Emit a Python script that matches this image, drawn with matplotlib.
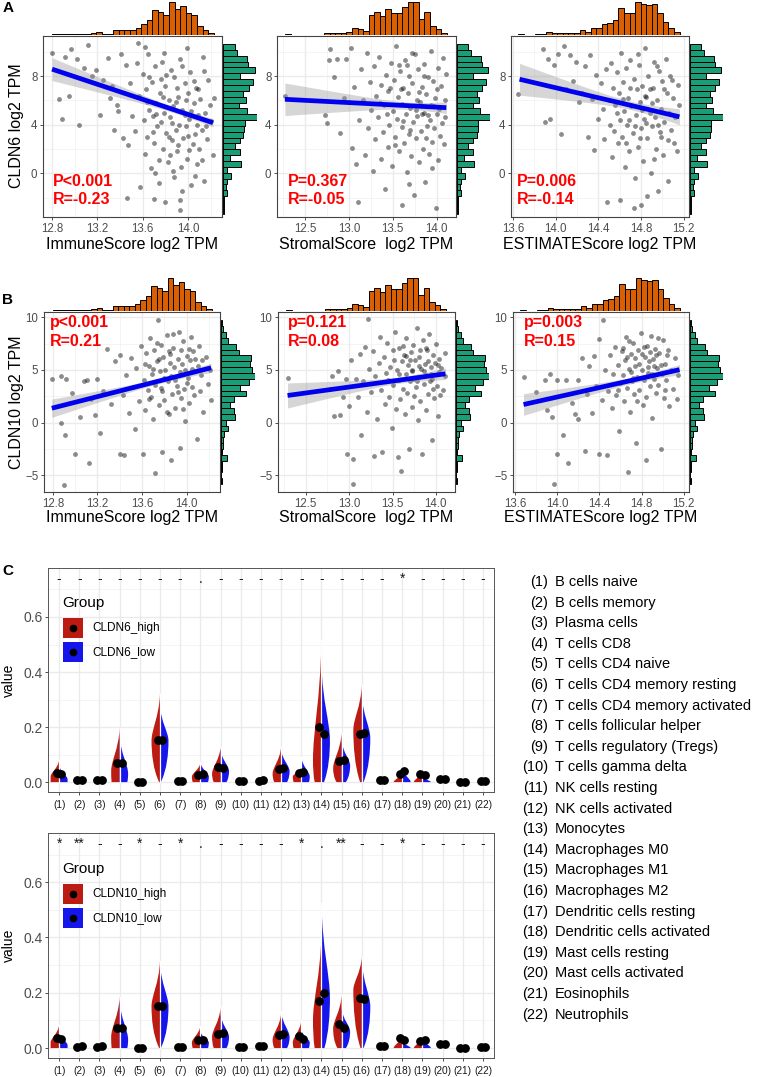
import matplotlib
matplotlib.use('Agg')
import matplotlib.pyplot as plt
import numpy as np
from matplotlib.patches import Rectangle, PathPatch
from matplotlib.path import Path

plt.rcParams['font.family'] = ['Liberation Sans', 'DejaVu Sans']

W, H = 770, 1077
fig = plt.figure(figsize=(W / 100, H / 100), dpi=100)

# ---------------- data: scatter panels (read approx. from picture) ----------------
a1 = [(12.80, 9.9), (12.86, 6.1), (12.89, 4.5), (12.91, 9.6), (12.95, 6.4), (12.97, 10.2), (13.02, 9.4), (13.04, 4.0),
      (13.08, 8.7), (13.12, 10.6), (13.15, 8.0), (13.19, 8.5), (13.22, 4.8), (13.25, 7.7), (13.29, 9.5), (13.31, 6.2),
      (13.35, 3.6), (13.37, 5.6), (13.38, 5.1), (13.41, 9.8), (13.43, 2.9), (13.46, -2.0), (13.47, 2.3), (13.49, 7.4),
      (13.51, 4.7), (13.53, 3.5), (13.55, 9.1), (13.57, 6.4), (13.58, -1.1), (13.56, 10.7), (13.45, 8.9), (13.33, 7.2),
      (13.60, 8.2), (13.61, 4.4), (13.62, 1.6), (13.63, 6.9), (13.64, 3.0), (13.65, 9.8), (13.66, 5.2), (13.67, 0.4),
      (13.68, 7.5), (13.69, 4.7), (13.70, -2.1), (13.70, 2.5), (13.71, 8.8), (13.72, 5.8), (13.73, 3.9), (13.74, 1.1),
      (13.75, 6.6), (13.76, 4.2), (13.77, 9.2), (13.78, 2.0), (13.79, 5.0), (13.80, -2.4), (13.80, 7.2), (13.81, 3.3),
      (13.82, 0.9), (13.83, 6.0), (13.84, 4.6), (13.85, 8.5), (13.86, 2.7), (13.87, 5.5), (13.88, -0.3), (13.88, 7.9),
      (13.89, 3.6), (13.90, 1.8), (13.91, 6.3), (13.92, 4.0), (13.93, -2.2), (13.93, 9.4), (13.94, 0.5), (13.95, 5.2),
      (13.96, 2.9), (13.97, 7.4), (13.98, 3.9), (13.99, 1.2), (14.00, 6.6), (14.01, 4.5), (14.02, 8.3), (14.03, -1.0),
      (14.04, 2.4), (14.05, 5.8), (14.06, 3.2), (14.07, 7.0), (14.08, 0.8), (14.09, 4.8), (14.10, 2.0), (14.11, 6.1),
      (14.12, 3.6), (14.13, 9.6), (14.14, -0.6), (14.15, 5.0), (14.17, 2.8), (14.18, 7.7), (14.20, 4.3), (14.22, 1.5),
      (14.23, 6.2), (13.93, -3.0), (13.74, -0.8), (13.66, 7.9), (13.72, 4.9), (13.78, 6.3), (13.81, 8.1), (13.84, 1.5),
      (13.86, 4.1), (13.89, 5.9), (13.91, 2.3), (13.95, 8.8), (13.97, 4.8), (14.00, 3.1), (14.03, 5.1), (14.05, 7.6),
      (14.08, 4.0), (14.12, 1.1), (14.16, 3.9), (13.64, 5.9), (13.69, 3.4), (13.76, 7.8), (13.83, 3.0), (13.90, 7.0),
      (13.98, 6.0), (14.01, 1.9), (14.09, 6.9), (14.19, 5.6), (13.71, 0.0), (13.87, 0.2), (14.06, -0.2), (13.95, -1.5),
      (13.79, 9.9), (13.99, 10.3), (14.14, 8.4), (13.62, 10.4)]

a2 = [(12.27, 6.4), (12.73, 4.8), (12.75, 4.1), (12.77, 9.3), (12.78, 10.2), (12.83, 7.9), (12.86, 9.4), (12.90, 3.3),
      (12.94, 6.2), (12.97, 9.4), (13.00, 5.9), (13.02, 10.3), (13.04, 2.1), (13.06, 7.1), (13.08, 0.8), (13.10, -2.4),
      (13.12, 4.4), (13.14, 8.6), (13.16, 6.0), (13.18, 1.5), (13.20, 9.9), (13.22, 3.7), (13.24, 7.5), (13.25, 5.2),
      (13.27, 0.2), (13.28, 8.8), (13.30, 2.8), (13.31, 6.4), (13.33, 4.6), (13.34, 9.6), (13.36, 1.2), (13.37, 7.3),
      (13.39, 3.4), (13.40, 5.6), (13.41, -1.3), (13.42, 8.1), (13.44, 2.2), (13.45, 6.8), (13.46, 4.0), (13.48, 9.1),
      (13.49, 0.6), (13.50, 5.1), (13.51, 7.7), (13.52, 3.0), (13.54, 10.5), (13.55, 4.5), (13.56, 6.3), (13.57, 1.8),
      (13.58, 8.4), (13.60, -2.6), (13.60, 3.8), (13.61, 5.7), (13.62, 7.0), (13.63, 2.5), (13.64, 9.3), (13.65, 4.9),
      (13.66, 0.1), (13.67, 6.6), (13.68, 3.2), (13.69, 8.0), (13.70, 5.4), (13.71, 1.4), (13.72, 7.4), (13.73, 4.2),
      (13.74, -1.8), (13.75, 9.8), (13.76, 2.9), (13.77, 6.0), (13.78, 4.7), (13.79, 8.6), (13.80, 0.9), (13.81, 5.9),
      (13.82, 3.5), (13.83, 7.1), (13.84, 2.0), (13.85, 5.0), (13.86, 9.0), (13.87, -0.7), (13.88, 6.5), (13.89, 3.9),
      (13.90, 7.9), (13.91, 1.6), (13.92, 4.4), (13.93, 10.1), (13.94, 5.6), (13.95, 2.6), (13.96, 7.6), (13.97, 3.7),
      (13.98, 6.2), (13.99, -2.9), (14.00, 4.9), (14.01, 8.7), (14.02, 1.1), (14.03, 5.3), (14.04, 3.1), (14.05, 7.2),
      (14.06, 4.1), (14.07, 9.5), (14.08, 2.4), (14.09, 6.0), (14.10, 4.6), (14.11, 8.2), (13.35, 5.8), (13.47, 7.0),
      (13.53, 2.3), (13.59, 6.9), (13.66, 8.9), (13.70, 3.6), (13.76, 5.2), (13.80, 6.7), (13.85, 8.0), (13.90, 4.8),
      (13.95, 0.4), (14.00, 6.9), (13.62, 4.3), (13.72, 9.9), (13.83, 4.9), (13.97, 5.5), (13.43, 4.9), (13.57, 8.9),
      (13.68, -0.9), (13.88, 2.9)]

a3 = [(13.65, 6.5), (13.88, 10.2), (13.90, 4.2), (13.93, 9.4), (13.95, 4.5), (13.98, 8.9), (14.02, 9.8), (14.05, 3.2),
      (14.08, 10.5), (14.10, 6.9), (14.13, 9.7), (14.16, 7.6), (14.19, 9.2), (14.22, 5.9), (14.25, 6.6), (14.27, 8.8),
      (14.30, 3.0), (14.32, 9.7), (14.34, 6.1), (14.36, 1.9), (14.38, 8.1), (14.40, 4.5), (14.42, 7.4), (14.44, 5.3),
      (14.45, 2.8), (14.47, 8.6), (14.48, -2.4), (14.50, 6.0), (14.51, 4.0), (14.52, 9.1), (14.53, 1.3), (14.54, 7.0),
      (14.55, 3.5), (14.56, 5.6), (14.57, 8.3), (14.58, 2.5), (14.59, 6.6), (14.60, -2.2), (14.60, 4.4), (14.61, 9.9),
      (14.62, 3.0), (14.63, 7.5), (14.64, 5.1), (14.65, 0.5), (14.66, 8.7), (14.67, 4.0), (14.68, 6.2), (14.69, 1.8),
      (14.70, 9.3), (14.71, 5.5), (14.72, 3.3), (14.73, 7.8), (14.74, -0.4), (14.75, 4.8), (14.76, 6.9), (14.77, 2.2),
      (14.78, 8.9), (14.79, 5.9), (14.80, 3.7), (14.80, -2.6), (14.81, 7.2), (14.82, 1.0), (14.83, 4.5), (14.84, 10.3),
      (14.85, 6.3), (14.86, 2.9), (14.87, 8.0), (14.88, 5.0), (14.89, 0.0), (14.90, 3.9), (14.91, 7.0), (14.92, 9.2),
      (14.93, 4.6), (14.94, 2.0), (14.95, 6.0), (14.96, -1.5), (14.97, 8.4), (14.98, 3.4), (14.99, 5.3), (15.00, 7.6),
      (15.01, 1.5), (15.02, 4.2), (15.03, 9.4), (15.04, 6.6), (15.05, 2.7), (15.06, 5.0), (15.07, 8.0), (15.08, 3.6),
      (15.10, 6.2), (15.12, 4.6), (15.14, 1.8), (15.15, 7.3), (15.16, 5.6), (14.63, 6.1), (14.66, 2.5), (14.70, 7.0),
      (14.74, 3.9), (14.77, 9.8), (14.81, 5.2), (14.85, 4.1), (14.88, 6.9), (14.92, 1.2), (14.95, 8.8), (14.99, 3.0),
      (15.02, 6.9), (15.05, -0.6), (15.09, 7.7), (14.57, 5.0), (14.69, 4.4), (14.79, 2.9), (14.90, 5.8), (14.73, -2.9),
      (14.86, -1.9), (14.84, 6.4), (14.96, 4.0), (15.11, 2.5)]

b1 = [(12.79, 4.1), (12.87, 4.4), (12.87, 0.0), (12.90, -5.9), (12.91, -1.2), (12.92, 4.1), (12.97, 2.8), (13.00, -3.0),
      (13.04, 0.5), (13.08, 3.9), (13.11, 4.0), (13.12, -3.8), (13.14, 2.2), (13.18, 0.7), (13.20, 4.1), (13.22, -1.0),
      (13.25, 3.0), (13.29, 7.0), (13.32, 1.8), (13.36, 5.8), (13.40, 6.4), (13.40, -3.0), (13.43, 2.6), (13.44, -3.1),
      (13.46, 4.5), (13.48, 0.9), (13.50, 6.1), (13.52, 3.4), (13.54, -0.6), (13.55, 5.2), (13.57, 2.0), (13.59, 7.3),
      (13.61, -3.0), (13.62, 4.0), (13.63, 1.2), (13.64, 6.6), (13.65, 3.1), (13.66, 5.4), (13.67, 8.0), (13.68, 2.4),
      (13.69, 4.6), (13.70, 0.3), (13.71, 6.9), (13.72, -4.8), (13.72, 3.6), (13.73, 5.8), (13.74, 9.7), (13.75, 1.7),
      (13.76, 4.9), (13.77, 7.4), (13.78, -2.8), (13.78, 3.0), (13.79, 6.2), (13.80, 2.1), (13.81, 5.0), (13.82, 8.3),
      (13.83, 3.9), (13.84, 0.8), (13.85, 6.5), (13.86, -3.6), (13.86, 4.4), (13.87, 2.7), (13.88, 7.1), (13.89, 5.3),
      (13.90, 1.4), (13.91, 3.5), (13.92, 6.0), (13.93, 8.6), (13.94, -2.4), (13.94, 4.8), (13.95, 2.3), (13.96, 5.6),
      (13.97, 7.7), (13.98, 3.2), (13.99, 0.1), (14.00, 6.3), (14.01, 4.2), (14.02, 1.9), (14.03, 5.9), (14.04, 8.1),
      (14.05, 3.4), (14.06, 6.8), (14.07, 2.6), (14.08, 4.9), (14.09, -1.6), (14.10, 5.4), (14.11, 7.3), (14.12, 3.0),
      (14.13, 4.5), (14.15, 1.0), (14.17, 6.2), (14.19, 3.7), (14.21, 5.0), (14.22, 2.1), (13.70, 5.1), (13.75, 6.0),
      (13.80, 4.2), (13.85, 5.7), (13.90, 4.0), (13.95, 6.9), (14.00, 3.8), (14.05, 5.1), (13.66, 2.2), (13.82, 1.0),
      (13.97, 1.3), (14.08, 6.0), (13.73, 7.6), (13.88, 8.4), (14.02, 7.0), (13.77, 3.3), (13.92, 2.9), (13.63, 5.6),
      (14.14, 5.9), (13.84, 6.8), (13.99, 5.0)]

b2 = [(12.29, 4.2), (12.78, 3.2), (12.80, 4.4), (12.83, 0.6), (12.87, 4.9), (12.90, 0.7), (12.93, 2.4), (12.96, 4.1),
      (12.98, -3.0), (13.00, 1.6), (13.02, 5.9), (13.05, -3.5), (13.05, -5.8), (13.08, 4.1), (13.10, 2.4), (13.12, 6.5),
      (13.14, -1.2), (13.16, 3.9), (13.18, 7.2), (13.20, 1.0), (13.22, 9.8), (13.23, 5.1), (13.25, 2.9), (13.27, 6.8),
      (13.29, -3.2), (13.30, 4.4), (13.32, 0.3), (13.34, 5.7), (13.35, 8.1), (13.37, 3.1), (13.38, -2.8), (13.40, 6.2),
      (13.41, 1.8), (13.43, 4.7), (13.44, 7.6), (13.46, 2.4), (13.47, 5.3), (13.49, -0.5), (13.50, 6.9), (13.51, 3.6),
      (13.53, 8.6), (13.54, 1.3), (13.55, 5.0), (13.57, 4.0), (13.58, 7.1), (13.59, 2.2), (13.60, -4.6), (13.61, 5.8),
      (13.62, 3.2), (13.63, 6.4), (13.64, 0.8), (13.65, 4.6), (13.66, 8.0), (13.67, 2.8), (13.68, 5.5), (13.69, -2.5),
      (13.70, 3.9), (13.71, 6.7), (13.72, 1.5), (13.73, 4.9), (13.74, 7.4), (13.75, 2.5), (13.76, 5.9), (13.77, 3.4),
      (13.78, 9.0), (13.79, 0.2), (13.80, 4.3), (13.81, 6.2), (13.82, 2.0), (13.83, 5.1), (13.84, -3.0), (13.85, 7.8),
      (13.86, 3.7), (13.87, 5.6), (13.88, 1.2), (13.89, 4.5), (13.90, 6.9), (13.91, 2.7), (13.92, 8.4), (13.93, 3.9),
      (13.94, 5.3), (13.95, -1.7), (13.96, 4.1), (13.97, 6.4), (13.98, 2.3), (13.99, 5.7), (14.00, 7.5), (14.01, 3.5),
      (14.02, 0.6), (14.03, 4.8), (14.04, 6.0), (14.05, 2.6), (14.06, 5.2), (14.08, 3.1), (14.10, 4.4), (14.11, 6.6),
      (13.45, 4.0), (13.52, 5.9), (13.58, 4.6), (13.66, 6.3), (13.72, 5.0), (13.78, 3.9), (13.82, 6.9), (13.86, 4.9),
      (13.91, 5.8), (13.97, 3.2), (14.02, 5.5), (13.62, 7.3), (13.74, 4.1), (13.88, 7.1), (13.94, 4.6), (13.56, -3.3),
      (13.70, 5.9), (13.80, 5.4)]

b3 = [(13.68, 4.3), (13.80, 2.9), (13.88, 4.0), (13.90, 1.2), (13.93, 4.6), (13.95, 0.5), (13.97, -5.8), (14.00, -3.0),
      (14.00, 4.0), (14.05, -1.2), (14.08, 4.0), (14.10, -3.8), (14.14, 1.9), (14.17, 0.8), (14.20, 0.3), (14.20, 4.0),
      (14.23, 6.1), (14.26, -2.7), (14.28, 2.7), (14.30, 5.4), (14.33, 0.9), (14.35, 6.3), (14.37, 3.5), (14.40, -3.0),
      (14.40, 7.9), (14.42, 2.1), (14.43, 9.7), (14.45, 5.0), (14.47, -3.1), (14.48, 3.0), (14.50, 6.4), (14.52, 1.4),
      (14.53, 4.6), (14.55, 7.2), (14.56, 2.6), (14.58, 5.5), (14.59, -0.8), (14.60, 3.8), (14.61, 6.8), (14.62, 4.5),
      (14.63, 2.0), (14.64, 5.9), (14.65, 8.1), (14.66, 3.3), (14.67, -4.7), (14.68, 5.1), (14.69, 1.0), (14.70, 6.5),
      (14.71, 3.9), (14.72, 7.6), (14.73, 2.7), (14.74, 5.4), (14.75, -1.9), (14.76, 4.3), (14.77, 6.9), (14.78, 3.1),
      (14.79, 8.5), (14.80, 5.0), (14.81, 1.7), (14.82, 4.0), (14.83, 6.2), (14.84, -3.6), (14.84, 2.4), (14.85, 7.3),
      (14.86, 4.7), (14.87, 5.8), (14.88, 3.5), (14.89, 8.2), (14.90, 0.4), (14.91, 6.0), (14.92, 4.1), (14.93, 7.0),
      (14.94, 2.8), (14.95, 5.2), (14.96, 3.6), (14.97, 6.6), (14.98, -2.5), (14.99, 4.6), (15.00, 7.8), (15.01, 2.3),
      (15.02, 5.6), (15.03, 4.0), (15.04, 6.4), (15.06, 1.6), (15.08, 5.0), (15.10, 3.2), (15.12, 6.1), (15.14, 2.2),
      (15.15, 4.5), (14.66, 6.2), (14.70, 4.8), (14.74, 6.1), (14.78, 5.6), (14.82, 7.2), (14.86, 5.3), (14.90, 4.6),
      (14.94, 6.4), (14.98, 5.5), (15.02, 3.1), (14.62, 7.1), (14.76, 2.0), (14.88, 6.7), (14.96, 8.0), (14.72, 4.2),
      (14.80, 6.5), (14.92, 5.4), (15.05, 6.9), (14.58, 3.1), (14.68, 7.7)]

# regression line (x0, y0, x1, y1) and CI half-width (left, min, right)
fits = {'a1': (12.80, 8.57, 14.22, 4.16), 'a2': (12.27, 6.09, 14.11, 5.40), 'a3': (13.66, 7.74, 15.16, 4.65),
        'b1': (12.79, 1.36, 14.22, 5.20), 'b2': (12.29, 2.57, 14.11, 4.63), 'b3': (13.68, 1.71, 15.16, 5.02)}
bands = {'a1': (0.94, 0.25, 0.35), 'a2': (1.34, 0.30, 0.48), 'a3': (1.31, 0.35, 0.65),
         'b1': (0.87, 0.25, 0.44), 'b2': (1.19, 0.30, 0.55), 'b3': (1.03, 0.30, 0.48)}
stats_a = [('P<0.001', 'R=-0.23'), ('P=0.367', 'R=-0.05'), ('P=0.006', 'R=-0.14')]
stats_b = [('p<0.001', 'R=0.21'), ('p=0.121', 'R=0.08'), ('p=0.003', 'R=0.15')]
xlabels = ['ImmuneScore log2 TPM', 'StromalScore  log2 TPM', 'ESTIMATEScore log2 TPM']

# marginal histograms (bar heights)
immune_range = (12.797, 14.227)
immune_counts = [3, 4, 4, 3, 2, 3, 3, 6, 10, 4, 4, 16, 16, 16, 16, 22, 32, 45, 75, 68, 60, 98, 78, 85, 65, 60, 27, 16, 6]
stromal_range = (12.273, 14.114)
stromal_counts = [3, 0, 0, 0, 0, 0, 0, 5, 5, 5, 5, 8, 20, 18, 12, 60, 68, 55, 78, 65, 65, 82, 98, 97, 48, 68, 28, 17, 5]
estimate_range = (13.649, 15.162)
estimate_counts = [3, 1, 1, 2, 3, 8, 5, 6, 5, 5, 5, 15, 10, 22, 22, 32, 36, 45, 80, 65, 65, 98, 93, 90, 92, 65, 40, 20, 10]
cldn6_range = (-3.33, 10.64)
cldn6_counts_top_down = [35, 42, 72, 75, 95, 50, 88, 78, 60, 67, 48, 70, 100, 65, 63, 60, 50, 35, 50, 20, 52, 13, 25,
                         12, 8, 13, 4, 3, 2]
cldn10_range = (-5.85, 9.71)
cldn10_counts_top_down = [3, 7, 15, 20, 45, 53, 90, 85, 93, 100, 83, 57, 75, 40, 27, 40, 42, 15, 20, 10, 7, 5, 3, 18, 3,
                          2, 1, 2]

# ---------------- data: CIBERSORT violins ----------------
cells = ['B cells naive', 'B cells memory', 'Plasma cells', 'T cells CD8', 'T cells CD4 naive',
         'T cells CD4 memory resting', 'T cells CD4 memory activated', 'T cells follicular helper',
         'T cells regulatory (Tregs)', 'T cells gamma delta', 'NK cells resting', 'NK cells activated', 'Monocytes',
         'Macrophages M0', 'Macrophages M1', 'Macrophages M2', 'Dendritic cells resting', 'Dendritic cells activated',
         'Mast cells resting', 'Mast cells activated', 'Eosinophils', 'Neutrophils']

c6_high_tip = [0.08, 0.01, 0.01, 0.196, 0.005, 0.32, 0.01, 0.07, 0.128, 0.008, 0.012, 0.128, 0.055, 0.516, 0.18, 0.353,
               0.012, 0.035, 0.04, 0.012, 0.005, 0.008]
c6_low_tip = [0.062, 0.012, 0.01, 0.17, 0.005, 0.28, 0.01, 0.072, 0.12, 0.008, 0.012, 0.12, 0.092, 0.43, 0.153, 0.32,
              0.012, 0.05, 0.02, 0.012, 0.005, 0.008]
c6_high_peak = [0.02, 0, 0, 0.04, 0, 0.15, 0, 0.02, 0.03, 0, 0, 0.03, 0.02, 0.08, 0.05, 0.19, 0, 0, 0, 0, 0, 0]
c6_low_peak = [0.01, 0, 0, 0.03, 0, 0.15, 0, 0.02, 0.04, 0, 0, 0.04, 0.02, 0.15, 0.06, 0.16, 0, 0, 0, 0, 0, 0]
c6_high_base = [1, 1, 1, 0.95, 1, 0.1, 1, 0.9, 0.8, 1, 1, 0.8, 0.9, 0.8, 0.6, 0.2, 1, 1, 1, 1, 1, 1]
c6_low_base = [1, 1, 1, 0.9, 1, 0.1, 1, 0.9, 0.7, 1, 1, 0.7, 0.9, 0.3, 0.5, 0.2, 1, 1, 1, 1, 1, 1]
c6_high_mean = [0.034, 0.007, 0.006, 0.07, 0.0, 0.153, 0.005, 0.027, 0.054, 0.003, 0.005, 0.047, 0.034, 0.199, 0.076,
                0.175, 0.008, 0.028, 0.028, 0.011, 0.0, 0.003]
c6_low_mean = [0.028, 0.007, 0.006, 0.07, 0.0, 0.153, 0.005, 0.03, 0.052, 0.003, 0.008, 0.05, 0.036, 0.175, 0.082,
               0.18, 0.008, 0.04, 0.026, 0.011, 0.001, 0.003]
c6_sig = ['-', '-', '-', '-', '-', '-', '-', '.', '-', '-', '-', '-', '-', '-', '-', '-', '-', '*', '-', '-', '-', '-']

c10_high_tip = [0.083, 0.01, 0.01, 0.186, 0.005, 0.315, 0.012, 0.08, 0.147, 0.008, 0.012, 0.125, 0.1, 0.415, 0.192,
                0.331, 0.012, 0.045, 0.04, 0.012, 0.005, 0.008]
c10_low_tip = [0.06, 0.012, 0.012, 0.174, 0.005, 0.31, 0.008, 0.06, 0.126, 0.008, 0.012, 0.135, 0.067, 0.524, 0.145,
               0.32, 0.012, 0.025, 0.035, 0.012, 0.005, 0.008]
c10_high_peak = [0.02, 0, 0, 0.04, 0, 0.15, 0, 0.02, 0.04, 0, 0, 0.03, 0.02, 0.1, 0.07, 0.21, 0, 0, 0, 0, 0, 0]
c10_low_peak = [0.01, 0, 0, 0.03, 0, 0.15, 0, 0.02, 0.04, 0, 0, 0.04, 0.02, 0.18, 0.06, 0.15, 0, 0, 0, 0, 0, 0]
c10_high_base = [1, 1, 1, 0.95, 1, 0.1, 1, 0.9, 0.8, 1, 1, 0.8, 0.9, 0.8, 0.5, 0.15, 1, 1, 1, 1, 1, 1]
c10_low_base = [1, 1, 1, 0.9, 1, 0.1, 1, 0.9, 0.7, 1, 1, 0.7, 0.9, 0.35, 0.5, 0.2, 1, 1, 1, 1, 1, 1]
c10_high_mean = [0.037, 0.004, 0.004, 0.072, 0.0, 0.153, 0.005, 0.03, 0.051, 0.003, 0.006, 0.047, 0.043, 0.17, 0.087,
                 0.18, 0.006, 0.038, 0.024, 0.013, 0.0, 0.002]
c10_low_mean = [0.031, 0.009, 0.006, 0.072, 0.0, 0.153, 0.003, 0.029, 0.056, 0.003, 0.006, 0.052, 0.031, 0.2, 0.071,
                0.177, 0.006, 0.029, 0.029, 0.013, 0.0, 0.002]
c10_sig = ['*', '**', '-', '-', '*', '-', '*', '.', '-', '-', '-', '-', '*', '.', '**', '-', '-', '*', '-', '-', '-', '-']

ORANGE = '#D95F02'
GREEN = '#1B9E77'
RED = '#BC1B12'
BLUE = '#1616EC'
GRID = '#EBEBEB'


def box(l, t, r, b):
    return fig.add_axes([l / W, 1 - b / H, (r - l) / W, (b - t) / H])


def ftext(x, y, s, **kw):
    fig.text(x / W, 1 - y / H, s, **kw)


def scatter_panel(key, pts, l, t, r, b, hist_top, hist_right, xlim, xticks, xminor, ylim, yticks, ylabels, yminor,
                  xcounts, xrange_, ycounts, yrange_):
    ax = box(l, t, r, b)
    ax.set_xlim(xlim)
    ax.set_ylim(ylim)
    for v in xminor:
        ax.axvline(v, color='#F3F3F3', lw=0.6, zorder=0)
    for v in yminor:
        ax.axhline(v, color='#F3F3F3', lw=0.6, zorder=0)
    for v in xticks:
        ax.axvline(v, color=GRID, lw=1.0, zorder=0)
    for v in yticks:
        ax.axhline(v, color=GRID, lw=1.0, zorder=0)
    xs = [p[0] for p in pts]
    ys = [p[1] for p in pts]
    ax.scatter(xs, ys, s=12, c='black', alpha=0.45, lw=0, zorder=2)

    x0, y0, x1, y1 = fits[key]
    wl, wm, wr = bands[key]
    q = np.sqrt((wl ** 2 - wm ** 2) / (wr ** 2 - wm ** 2))
    xc = (x0 + q * x1) / (1 + q)
    k = (wl ** 2 - wm ** 2) / (xc - x0) ** 2
    xx = np.linspace(x0, x1, 100)
    yy = y0 + (y1 - y0) * (xx - x0) / (x1 - x0)
    hw = np.sqrt(wm ** 2 + k * (xx - xc) ** 2)
    ax.fill_between(xx, yy - hw, yy + hw, color='#999999', alpha=0.4, lw=0, zorder=3)
    ax.plot(xx, yy, color='#0000EE', lw=3.4, solid_capstyle='butt', zorder=4)

    ax.set_xticks(xticks)
    ax.set_xticklabels([f'{v:.1f}' for v in xticks])
    ax.set_yticks(yticks)
    ax.set_yticklabels(ylabels)
    ax.tick_params(length=2.5, width=0.6, color='#333333', labelsize=8.3, labelcolor='#4D4D4D', pad=1.5)
    for s in ax.spines.values():
        s.set_color('#444444')
        s.set_linewidth(0.8)

    # top marginal
    axt = box(l, hist_top, r, t - 1)
    n = len(xcounts)
    edges = np.linspace(xrange_[0], xrange_[1], n + 1)
    axt.bar(edges[:-1], xcounts, width=edges[1] - edges[0], align='edge', color=ORANGE, edgecolor='black', lw=0.7)
    axt.set_xlim(xlim)
    axt.set_ylim(0, 101)
    axt.axis('off')

    # right marginal
    axr = box(r + 1, t, hist_right, b)
    n = len(ycounts)
    edges = np.linspace(yrange_[1], yrange_[0], n + 1)
    axr.barh(edges[1:], ycounts, height=edges[0] - edges[1], align='edge', color=GREEN, edgecolor='black', lw=0.7)
    axr.set_ylim(ylim)
    axr.set_xlim(0, 101)
    axr.axis('off')
    return ax


# ---------------- Panel A / B ----------------
a_ylim = (-3.6, 11.3)
b_ylim = (-6.6, 10.5)
rowA = [('a1', a1, 43, 222, 257, (12.72, 14.30), [12.8, 13.2, 13.6, 14.0], [13.0, 13.4, 13.8, 14.2],
         immune_counts, immune_range),
        ('a2', a2, 277, 456, 490, (12.18, 14.22), [12.5, 13.0, 13.5, 14.0], [12.25, 12.75, 13.25, 13.75],
         stromal_counts, stromal_range),
        ('a3', a3, 511, 689, 723, (13.58, 15.25), [13.6, 14.0, 14.4, 14.8, 15.2], [13.8, 14.2, 14.6, 15.0],
         estimate_counts, estimate_range)]
rowB = [('b1', b1, 44, 220, 255, (12.72, 14.30), [12.8, 13.2, 13.6, 14.0], [13.0, 13.4, 13.8, 14.2],
         immune_counts, immune_range),
        ('b2', b2, 278, 455, 489, (12.18, 14.22), [12.5, 13.0, 13.5, 14.0], [12.25, 12.75, 13.25, 13.75],
         stromal_counts, stromal_range),
        ('b3', b3, 513, 689, 723, (13.58, 15.25), [13.6, 14.0, 14.4, 14.8, 15.2], [13.8, 14.2, 14.6, 15.0],
         estimate_counts, estimate_range)]

text_x_a = [53, 288, 517]
text_x_b = [50, 288, 524]
for i, (key, pts, l, r, hr, xlim, xt, xm, xc, xrg) in enumerate(rowA):
    scatter_panel(key, pts, l, 36, r, 217, 1, hr, xlim, xt, xm, a_ylim, [0, 4, 8], ['0', '4', '8'],
                  [-2, 2, 6, 10], xc, xrg, cldn6_counts_top_down, cldn6_range)
    ftext((l + r) / 2, 244, xlabels[i], ha='center', va='center', fontsize=11.5)
    ftext(text_x_a[i], 182, stats_a[i][0], color='#FF0000', fontsize=11.5, fontweight='bold', va='center')
    ftext(text_x_a[i], 200, stats_a[i][1], color='#FF0000', fontsize=11.5, fontweight='bold', va='center')

for i, (key, pts, l, r, hr, xlim, xt, xm, xc, xrg) in enumerate(rowB):
    scatter_panel(key, pts, l, 312, r, 492, 277, hr, xlim, xt, xm, b_ylim, [-5, 0, 5, 10],
                  ['\u22125', '0', '5', '10'], [-2.5, 2.5, 7.5], xc, xrg, cldn10_counts_top_down, cldn10_range)
    ftext((l + r) / 2, 518, xlabels[i], ha='center', va='center', fontsize=11.5)
    ftext(text_x_b[i], 322, stats_b[i][0], color='#FF0000', fontsize=11.5, fontweight='bold', va='center')
    ftext(text_x_b[i], 341, stats_b[i][1], color='#FF0000', fontsize=11.5, fontweight='bold', va='center')

ftext(17, 126, 'CLDN6 log2 TPM', rotation=90, ha='center', va='center', fontsize=11.5)
ftext(17, 402, 'CLDN10 log2 TPM', rotation=90, ha='center', va='center', fontsize=11.5)
ftext(3, 8, 'A', fontsize=11, fontweight='bold', va='center')
ftext(2, 300, 'B', fontsize=11, fontweight='bold', va='center')
ftext(2, 571, 'C', fontsize=11, fontweight='bold', va='center')


# ---------------- Panel C ----------------
def half_violin(ax, pos, side, tip, peak, base, color):
    hw = 0.42
    xb = pos + side * hw * base
    xw = pos + side * hw
    verts = [(pos, 0), (xb, 0),
             (xb + side * hw * (1 - base) * 0.8, peak * 0.3), (xw, peak * 0.7), (xw, peak),
             (xw, peak + (tip - peak) * 0.25), (pos + side * hw * 0.12, peak + (tip - peak) * 0.5), (pos, tip),
             (pos, 0)]
    codes = [Path.MOVETO, Path.LINETO, Path.CURVE4, Path.CURVE4, Path.CURVE4,
             Path.CURVE4, Path.CURVE4, Path.CURVE4, Path.CLOSEPOLY]
    ax.add_patch(PathPatch(Path(verts, codes), facecolor=color, edgecolor='none', zorder=2))


def violin_panel(t, b, high_tip, low_tip, high_peak, low_peak, high_base, low_base, high_mean, low_mean, sig,
                 gname, ly):
    ax = box(48, t, 494, b)
    ax.set_xlim(0.45, 22.55)
    ax.set_ylim(-0.036, 0.778)
    pos = np.arange(1, 23)
    for v in [0.1, 0.3, 0.5, 0.7]:
        ax.axhline(v, color='#F3F3F3', lw=0.6, zorder=0)
    for v in [0.0, 0.2, 0.4, 0.6]:
        ax.axhline(v, color=GRID, lw=1.0, zorder=0)
    for p in pos:
        ax.axvline(p, color=GRID, lw=1.0, zorder=0)
    for i, p in enumerate(pos):
        if high_tip[i] > 0.015:
            half_violin(ax, p, -1, high_tip[i], high_peak[i], high_base[i], RED)
        if low_tip[i] > 0.015:
            half_violin(ax, p, 1, low_tip[i], low_peak[i], low_base[i], BLUE)
        if max(high_tip[i], low_tip[i]) > 0.015:
            ax.plot([p, p], [0, max(high_tip[i], low_tip[i])], color='white', lw=0.9, zorder=3)
        ax.text(p, 0.725, sig[i], ha='center', va='baseline', fontsize=10, color='#1A1A1A')
    ax.plot(pos - 0.11, high_mean, 'o', color='black', ms=5.3, zorder=4)
    ax.plot(pos + 0.11, low_mean, 'o', color='black', ms=5.3, zorder=4)
    ax.set_xticks(pos)
    ax.set_xticklabels([f'({i})' for i in pos])
    ax.set_yticks([0.0, 0.2, 0.4, 0.6])
    ax.set_yticklabels(['0.0', '0.2', '0.4', '0.6'])
    ax.tick_params(axis='y', length=2.5, width=0.6, color='#333333', labelsize=10, labelcolor='#4D4D4D', pad=1.5)
    ax.tick_params(axis='x', length=2.5, width=0.6, color='#333333', labelsize=7.3, labelcolor='#1A1A1A', pad=3)
    for s in ax.spines.values():
        s.set_color('#555555')
        s.set_linewidth(0.7)
    ftext(9, (t + b) / 2, 'value', rotation=90, ha='center', va='center', fontsize=10)

    # legend
    ftext(62, ly, 'Group', fontsize=11, va='center')
    for j, (col, lab) in enumerate([(RED, gname + '_high'), (BLUE, gname + '_low')]):
        y0 = ly + 15 + j * 24
        fig.patches.append(Rectangle((63 / W, 1 - (y0 + 20) / H), 20 / W, 20 / H, transform=fig.transFigure,
                                     facecolor=col, edgecolor='none'))
        fig.lines.append(plt.Line2D([73 / W], [1 - (y0 + 10) / H], transform=fig.transFigure, marker='o',
                                    color='black', ms=4.5))
        ftext(92, y0 + 10, lab, fontsize=8.5, va='center')
    return ax


violin_panel(568, 792, c6_high_tip, c6_low_tip, c6_high_peak, c6_low_peak, c6_high_base, c6_low_base,
             c6_high_mean, c6_low_mean, c6_sig, 'CLDN6', 603)
violin_panel(833, 1058, c10_high_tip, c10_low_tip, c10_high_peak, c10_low_peak, c10_high_base, c10_low_base,
             c10_high_mean, c10_low_mean, c10_sig, 'CLDN10', 869)

# cell type key
for i, name in enumerate(cells):
    y = 582 + i * 20.6
    ftext(548, y, f'({i + 1})', ha='right', va='center', fontsize=10.5)
    ftext(555, y, name, ha='left', va='center', fontsize=10.5)

fig.savefig('out.png', dpi=100)
